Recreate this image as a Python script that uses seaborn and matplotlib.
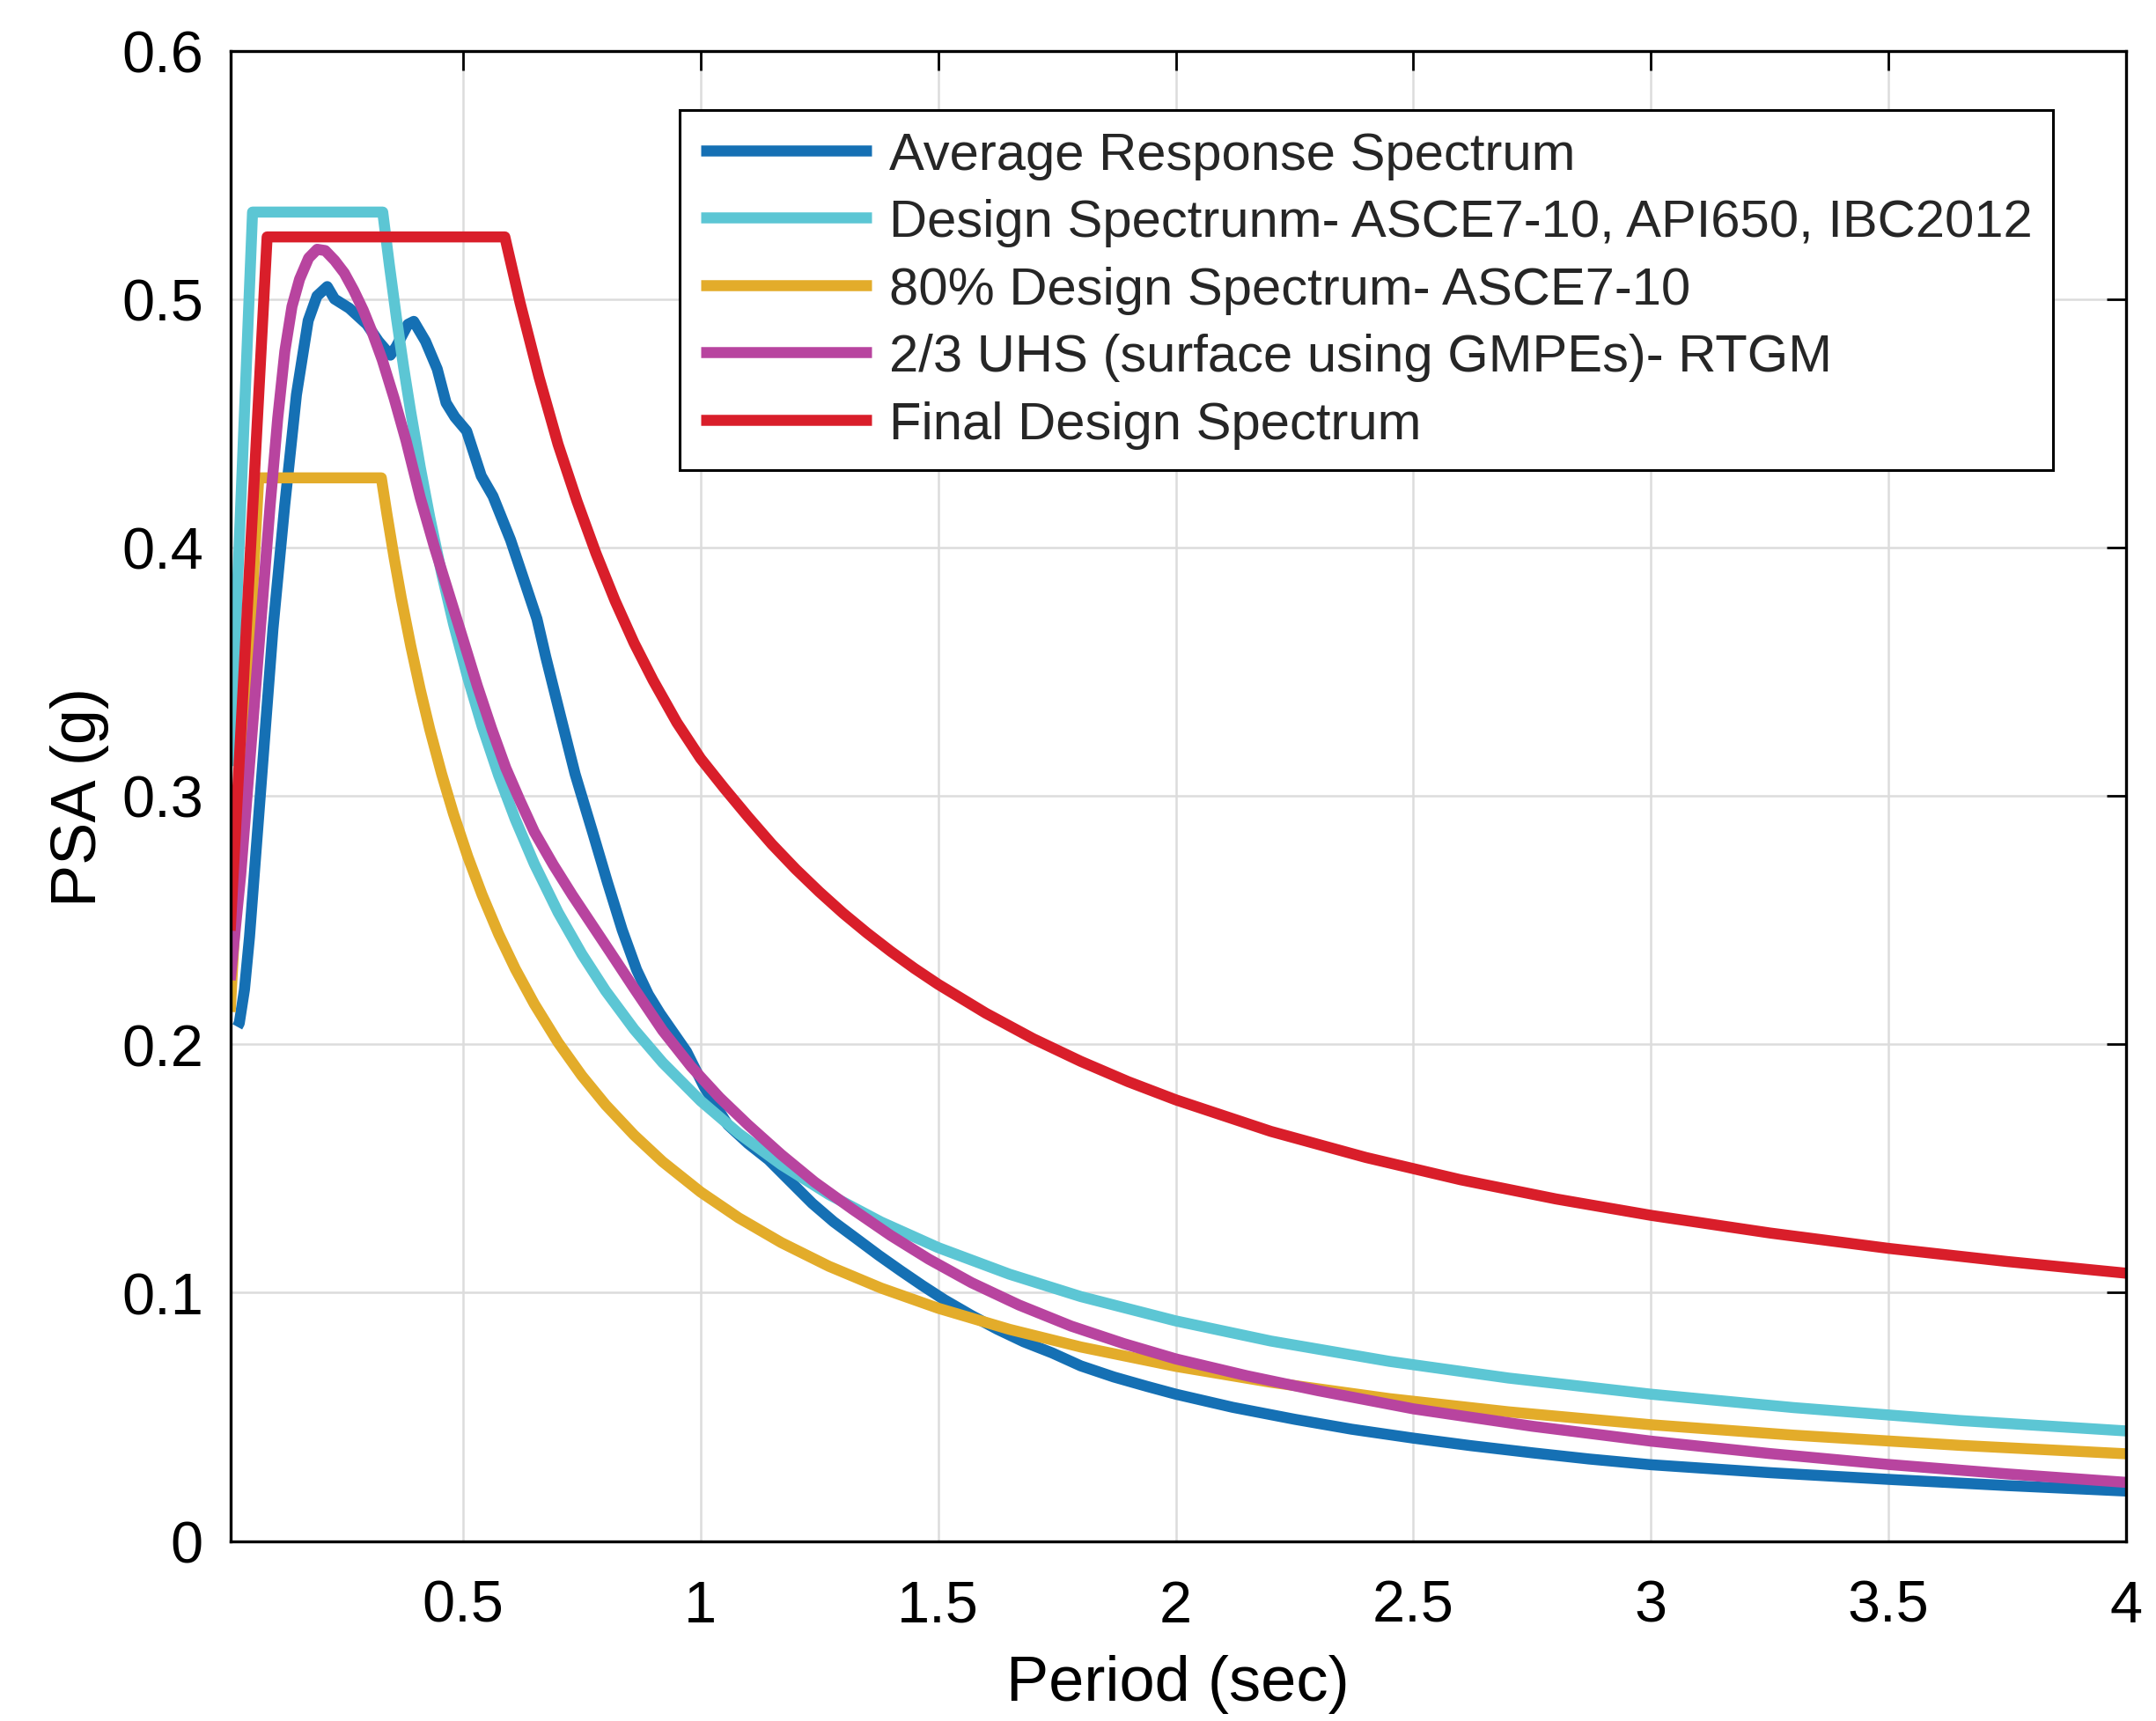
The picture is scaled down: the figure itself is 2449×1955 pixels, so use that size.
import matplotlib
matplotlib.use("Agg")
import matplotlib.pyplot as plt
import pandas as pd
import seaborn as sns

# ---------------- data ----------------
series_labels = [
    "Average Response Spectrum",
    "Design Spectrunm- ASCE7-10, API650, IBC2012",
    "80% Design Spectrum- ASCE7-10",
    "2/3 UHS (surface using GMPEs)- RTGM",
    "Final Design Spectrum",
]
series_colors = ["#1570B4", "#5CC6D4", "#E3AC2A", "#B8449F", "#D91E2A"]

period_avg = [0.025, 0.029, 0.04, 0.0506, 0.0753, 0.1, 0.1247, 0.1494, 0.1741, 0.1926,
              0.2142, 0.2296, 0.2605, 0.2976, 0.322, 0.347, 0.3593, 0.384, 0.3963, 0.421,
              0.4457, 0.4643, 0.4828, 0.5075, 0.5383, 0.563, 0.60, 0.631, 0.6556, 0.674,
              0.7049, 0.7358, 0.7728, 0.8037, 0.835, 0.8654, 0.8900, 0.9148, 0.9704, 1.0074,
              1.057, 1.10, 1.143, 1.19, 1.235, 1.28, 1.328, 1.375, 1.421, 1.467, 1.513, 1.57,
              1.624, 1.68, 1.74, 1.80, 1.87, 1.94, 2.0, 2.12, 2.25, 2.37, 2.5, 2.62, 2.75,
              2.87, 3.0, 3.25, 3.5, 3.75, 4.0]
psa_avg = [0.207, 0.2084, 0.222, 0.2432, 0.3052, 0.3672, 0.4169, 0.4615, 0.4913, 0.5012,
           0.505, 0.500, 0.4963, 0.4898, 0.483, 0.4774, 0.4808, 0.4898, 0.491, 0.483,
           0.4718, 0.4582, 0.4525, 0.4469, 0.4288, 0.4206, 0.4030, 0.3853, 0.3712, 0.356,
           0.3323, 0.3088, 0.2853, 0.2653, 0.2460, 0.2299, 0.2200, 0.2123, 0.197, 0.1829,
           0.1676, 0.1600, 0.1535, 0.1445, 0.1359, 0.1285, 0.1217, 0.1150, 0.1088, 0.1028,
           0.0971, 0.0908, 0.0853, 0.0802, 0.0757, 0.0705, 0.0660, 0.0622, 0.0591, 0.0538,
           0.0490, 0.0450, 0.0414, 0.0384, 0.0355, 0.0330, 0.0307, 0.0275, 0.0248, 0.0223,
           0.0201]

period_design = [0.01, 0.057, 0.331, 0.345, 0.36, 0.375, 0.39, 0.41, 0.43, 0.455, 0.48,
                 0.51, 0.54, 0.575, 0.61, 0.65, 0.70, 0.75, 0.80, 0.86, 0.92, 1.0, 1.08,
                 1.17, 1.27, 1.38, 1.5, 1.65, 1.8, 2.0, 2.2, 2.45, 2.7, 3.0, 3.3, 3.65, 4.0]
psa_design = [0.312, 0.535, 0.535, 0.5136, 0.4922, 0.4725, 0.4544, 0.4322, 0.4121, 0.3895,
              0.3692, 0.3475, 0.3281, 0.3082, 0.2905, 0.2726, 0.2531, 0.2363, 0.2215, 0.2060,
              0.1926, 0.1772, 0.1641, 0.1515, 0.1395, 0.1284, 0.1181, 0.1074, 0.0984, 0.0886,
              0.0805, 0.0723, 0.0656, 0.0591, 0.0537, 0.0485, 0.0443]

period_80 = [0.01, 0.07, 0.328, 0.34, 0.355, 0.37, 0.39, 0.41, 0.43, 0.455, 0.48, 0.51,
             0.54, 0.575, 0.61, 0.65, 0.70, 0.75, 0.80, 0.86, 0.92, 1.0, 1.08, 1.17, 1.27,
             1.38, 1.5, 1.65, 1.8, 2.0, 2.2, 2.45, 2.7, 3.0, 3.3, 3.65, 4.0]
psa_80 = [0.213, 0.428, 0.428, 0.4132, 0.3958, 0.3797, 0.3603, 0.3427, 0.3267, 0.3088,
          0.2927, 0.2755, 0.2602, 0.2443, 0.2303, 0.2162, 0.2007, 0.1873, 0.1756, 0.1634,
          0.1527, 0.1405, 0.1301, 0.1201, 0.1106, 0.1018, 0.0937, 0.0852, 0.0781, 0.0703,
          0.0639, 0.0573, 0.0520, 0.0468, 0.0426, 0.0385, 0.0351]

period_uhs = [0.01, 0.032, 0.063, 0.094, 0.11, 0.125, 0.14, 0.156, 0.175, 0.193, 0.21,
              0.23, 0.25, 0.27, 0.29, 0.31, 0.33, 0.355, 0.38, 0.41, 0.44, 0.47, 0.50,
              0.53, 0.56, 0.59, 0.62, 0.65, 0.69, 0.73, 0.77, 0.81, 0.86, 0.92, 0.98, 1.04,
              1.1, 1.17, 1.24, 1.32, 1.4, 1.48, 1.57, 1.67, 1.78, 1.89, 2.0, 2.15, 2.3, 2.5,
              2.75, 3.0, 3.25, 3.5, 3.75, 4.0]
psa_uhs = [0.2258, 0.268, 0.342, 0.417, 0.452, 0.479, 0.497, 0.508, 0.5165, 0.520, 0.5195,
           0.5155, 0.5105, 0.5035, 0.4955, 0.486, 0.4755, 0.4600, 0.4430, 0.4200, 0.4000,
           0.3815, 0.3630, 0.3443, 0.3271, 0.3112, 0.2980, 0.2855, 0.2722, 0.2600, 0.2485,
           0.2370, 0.2225, 0.2055, 0.1910, 0.1785, 0.1675, 0.1555, 0.1445, 0.1335, 0.1230,
           0.1135, 0.1040, 0.0950, 0.0865, 0.0795, 0.0733, 0.0665, 0.0605, 0.0532, 0.0462,
           0.0402, 0.0352, 0.0308, 0.0270, 0.0236]

period_final = [0.01, 0.0877, 0.588, 0.62, 0.66, 0.70, 0.74, 0.78, 0.82, 0.86, 0.90, 0.95,
                1.0, 1.05, 1.1, 1.15, 1.2, 1.25, 1.3, 1.35, 1.4, 1.45, 1.5, 1.6, 1.7, 1.8,
                1.9, 2.0, 2.2, 2.4, 2.6, 2.8, 3.0, 3.25, 3.5, 3.75, 4.0]
psa_final = [0.2457, 0.525, 0.525, 0.4985, 0.4685, 0.4415, 0.4185, 0.3975, 0.3785, 0.3615,
             0.3465, 0.3295, 0.3150, 0.3030, 0.2915, 0.2805, 0.2705, 0.2613, 0.2527, 0.2448,
             0.2374, 0.2305, 0.2241, 0.2125, 0.2022, 0.1931, 0.1849, 0.1776, 0.1649, 0.1544,
             0.1454, 0.1377, 0.1311, 0.1240, 0.1178, 0.1125, 0.1078]

x_ticks = [0.5, 1, 1.5, 2, 2.5, 3, 3.5, 4]
x_tick_labels = ["0.5", "1", "1.5", "2", "2.5", "3", "3.5", "4"]
y_ticks = [0, 0.1, 0.2, 0.3, 0.4, 0.5, 0.6]
y_tick_labels = ["0", "0.1", "0.2", "0.3", "0.4", "0.5", "0.6"]

# ---------------- build long table ----------------
periods = [period_avg, period_design, period_80, period_uhs, period_final]
values = [psa_avg, psa_design, psa_80, psa_uhs, psa_final]
frames = []
for lab, T, v in zip(series_labels, periods, values):
    frames.append(pd.DataFrame({"Period": T, "PSA": v, "Series": lab}))
df = pd.concat(frames, ignore_index=True)

# ---------------- style ----------------
sns.set_theme(style="white")
plt.rcParams["font.family"] = ["Liberation Sans", "DejaVu Sans"]

W, H = 2449, 1956
fig = plt.figure(figsize=(W / 100, H / 100), dpi=100)
left, right, top, bottom = 261.5, 2415.0, 58.5, 1751.5
ax = fig.add_axes([left / W, 1 - bottom / H, (right - left) / W, (bottom - top) / H])

sns.lineplot(data=df, x="Period", y="PSA", hue="Series", hue_order=series_labels,
             palette=dict(zip(series_labels, series_colors)), estimator=None, sort=False,
             linewidth=9, legend=False, ax=ax)

for ln in ax.lines:
    ln.set_solid_joinstyle("round")
    ln.set_solid_capstyle("butt")
    ln.set_zorder(3)

ax.set_xlim(0.01, 4)
ax.set_ylim(0, 0.6)
ax.set_xticks(x_ticks)
ax.set_xticklabels(x_tick_labels)
ax.set_yticks(y_ticks)
ax.set_yticklabels(y_tick_labels)

ax.grid(True, color="#dcdcdc", linewidth=1.8)
ax.set_axisbelow(True)
for sp in ax.spines.values():
    sp.set_visible(True)
    sp.set_color("black")
    sp.set_linewidth(2.4)
    sp.set_zorder(5)

ax.tick_params(direction="in", length=16, width=2, top=True, right=True,
               labelsize=48, colors="black")
ax.tick_params(axis="x", pad=31)
ax.tick_params(axis="y", pad=22)

ax.set_xlabel("Period (sec)", fontsize=52, color="black")
ax.set_ylabel("PSA (g)", fontsize=52, color="black")
ax.xaxis.set_label_coords(0.5, -0.076)
ax.yaxis.set_label_coords(-0.064, 0.5)

handles = ax.lines[:len(series_labels)]
leg = ax.legend(handles, series_labels, loc="upper left",
                bbox_to_anchor=((772 - left) / (right - left), (bottom - 126) / (bottom - top)),
                borderaxespad=0, fontsize=43, handlelength=3.25, handletextpad=0.33,
                labelspacing=0.36, borderpad=0.40, frameon=True, fancybox=False,
                framealpha=1, edgecolor="black")
leg.get_frame().set_linewidth(2.2)
leg.set_zorder(10)

fig.savefig("out.png", dpi=100)
